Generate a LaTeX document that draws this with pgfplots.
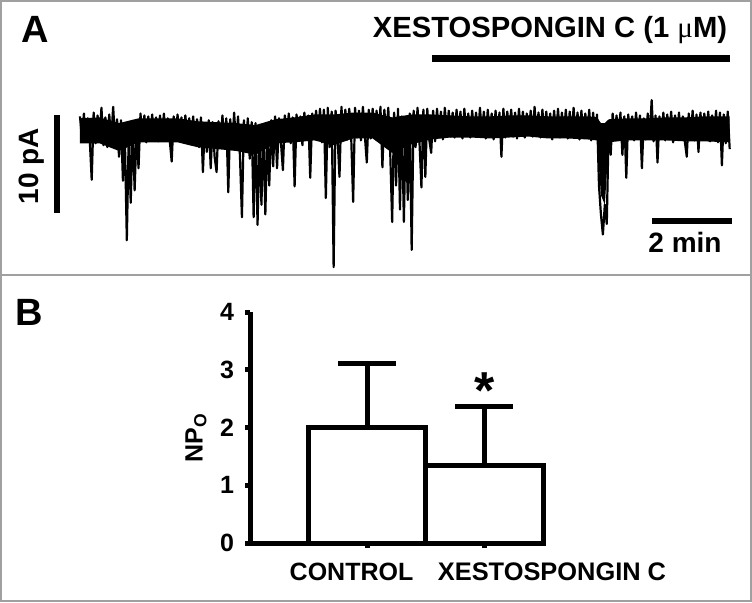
\documentclass[border=0pt]{standalone}
\usepackage{fontspec}
\setmainfont{Liberation Sans}
\newfontfamily\symfont{Liberation Serif}
\usepackage{pgfplots}
\pgfplotsset{compat=1.18}
\definecolor{framegray}{RGB}{160,160,160}

\begin{document}
\begin{tikzpicture}[x=0.5pt,y=0.5pt]
\useasboundingbox (0,0) rectangle (752,602);
\fill[white] (0,0) rectangle (752,602);
\draw[framegray, line width=1pt] (1,1) rectangle (751,601);
\draw[framegray, line width=1pt] (1,327) -- (751,327);

% ---------------- panel A: current trace ----------------
\node[anchor=base west, inner sep=0pt, font=\fontsize{19}{22}\selectfont\bfseries] at (21,560) {A};
\node[anchor=base, inner sep=0pt, font=\fontsize{14.6}{18}\selectfont\bfseries]
  at (550,565) {XESTOSPONGIN C (1 {\symfont\mdseries μ}M)};
\draw[line width=3.5pt] (432,543.5) -- (730,543.5);

\begin{axis}[at={(40pt,166pt)}, anchor=south west,
  width=325.5pt, height=86.4pt, scale only axis, hide axis,
  xmin=0, xmax=1001, ymin=-14.8, ymax=3.2, clip=false]
% dense core of the noise band (upper edge forward, lower edge back)
\addplot[fill=black, draw=none] coordinates {
(0,1.0)(30,1.1)(60,0.5)(90,1.0)(120,1.0)(150,1.0)(180,0.7)(210,0.6)(240,0.5)(270,0.3)
(300,0.9)(330,1.1)(360,1.4)(390,1.4)(420,1.6)(450,1.6)(480,1.1)(510,1.4)(540,1.4)(570,1.3)
(600,1.2)(630,1.2)(660,1.3)(690,1.3)(720,1.2)(750,1.2)(780,1.2)(795,1.1)(801,0.5)(807,0.5)
(813,0.9)(840,1.0)(870,1.0)(900,1.1)(930,1.1)(960,1.2)(999,1.2)
(999,-1.5)(960,-1.4)(930,-1.4)(900,-1.3)(870,-1.3)(840,-1.3)(813,-1.5)(807,-8.0)(801,-7.0)
(795,-1.3)(780,-1.2)(750,-1.1)(720,-1.1)(690,-0.9)(660,-1.0)(630,-1.1)(600,-1.0)(570,-1.0)
(540,-1.2)(510,-1.7)(480,-2.6)(450,-1.1)(420,-1.1)(390,-1.8)(360,-1.3)(330,-1.5)(300,-1.6)
(270,-2.8)(240,-2.4)(210,-2.2)(180,-2.0)(150,-1.5)(120,-1.5)(90,-1.5)(60,-2.4)(30,-1.6)(0,-1.6)
} \closedcycle;
% time in s, current in pA
\addplot[black, line width=1.1pt, line join=round, mark=none] coordinates {
(0,1.2)(3,-1.1)(6,1.5)(9,-1.4)(12,1.0)(15,-1.2)(18,-5.4)(21,1.6)(24,-1.6)(27,1.3)
(30,-1.0)(33,2.1)(36,-1.8)(39,1.1)(42,-2.0)(45,1.4)(48,-1.3)(51,2.2)(54,-1.5)(57,0.9)
(60,-3.0)(63,0.8)(66,-5.5)(69,-1.0)(72,-11.7)(75,-0.5)(78,-7.8)(81,0.5)(84,-6.5)(87,-0.2)
(90,-4.2)(93,1.5)(96,-1.2)(99,1.3)(102,-1.5)(105,1.2)(108,-1.0)(111,1.4)(114,-1.3)(117,1.1)
(120,-1.4)(123,1.3)(126,-1.1)(129,1.5)(132,-1.2)(135,1.0)(138,-1.3)(141,-3.5)(144,1.2)(147,-1.0)
(150,1.4)(153,-1.2)(156,1.1)(159,-1.5)(162,1.3)(165,-1.1)(168,1.0)(171,-1.4)(174,1.2)(177,-1.6)
(180,0.9)(183,-2.0)(186,1.1)(189,-4.6)(192,0.5)(195,-2.5)(198,0.8)(201,-4.2)(204,0.6)(207,-3.0)
(210,-4.6)(213,0.7)(216,-1.8)(219,1.3)(222,-1.5)(225,1.0)(228,-6.7)(231,0.9)(234,-2.0)(237,1.6)
(240,-1.8)(243,1.2)(246,-3.0)(249,-9.3)(252,0.8)(255,-2.5)(258,1.0)(261,-3.2)(264,0.6)(267,-9.3)
(270,0.5)(273,-10.1)(276,-1.0)(279,-8.0)(282,0.2)(285,-9.0)(288,-0.5)(291,-6.0)(294,0.8)(297,-4.0)
(300,1.2)(303,-4.2)(306,1.0)(309,-1.5)(312,-4.4)(315,1.3)(318,-1.2)(321,1.5)(324,-1.6)(327,1.1)
(330,-6.1)(333,1.4)(336,-1.3)(339,1.2)(342,-1.8)(345,1.6)(348,-1.2)(351,1.3)(354,-5.2)(357,1.5)
(360,-1.0)(363,1.8)(366,-1.2)(369,2.0)(372,-1.5)(375,1.9)(378,-7.3)(381,2.1)(384,-2.0)(387,1.7)
(390,-14.5)(393,1.8)(396,-1.0)(399,-5.1)(402,2.2)(405,-1.0)(408,1.9)(411,-1.2)(414,2.0)(417,-0.9)
(420,-7.7)(423,2.1)(426,-1.0)(429,1.8)(432,-1.3)(435,2.2)(438,-0.8)(441,-3.6)(444,1.9)(447,-1.1)
(450,2.0)(453,-0.9)(456,1.8)(459,-1.2)(462,2.2)(465,-4.1)(468,1.9)(471,-1.0)(474,2.1)(477,-2.5)
(480,-9.8)(483,1.6)(486,-6.0)(489,2.0)(492,-8.5)(495,1.2)(498,-9.8)(501,0.8)(504,-7.5)(507,1.5)
(510,-12.7)(513,1.8)(516,-2.0)(519,2.1)(522,-1.5)(525,-6.2)(528,1.9)(531,-5.1)(534,2.0)(537,-1.2)
(540,-2.6)(543,1.8)(546,-1.4)(549,2.0)(552,-1.0)(555,1.7)(558,-1.2)(561,2.1)(564,-0.9)(567,1.8)
(570,-0.9)(573,1.6)(576,-1.0)(579,1.9)(582,-0.7)(585,1.7)(588,-1.1)(591,2.0)(594,-0.8)(597,1.5)
(600,-1.0)(603,1.8)(606,-0.6)(609,1.6)(612,-0.9)(615,2.1)(618,-0.7)(621,1.7)(624,-1.1)(627,1.9)
(630,-0.8)(633,1.5)(636,-1.2)(639,1.8)(642,-0.9)(645,1.6)(648,-3.0)(651,2.0)(654,-1.0)(657,1.7)
(660,-0.7)(663,1.9)(666,-0.9)(669,1.6)(672,-1.1)(675,2.0)(678,-0.8)(681,1.7)(684,-1.0)(687,1.5)
(690,-0.6)(693,1.8)(696,-0.9)(699,2.2)(702,-0.8)(705,1.6)(708,-1.0)(711,1.9)(714,-0.7)(717,1.7)
(720,-0.9)(723,1.5)(726,-1.2)(729,1.8)(732,-0.8)(735,2.0)(738,-1.0)(741,1.6)(744,-0.9)(747,1.9)
(750,-1.1)(753,1.7)(756,-0.8)(759,2.1)(762,-0.9)(765,1.6)(768,-1.2)(771,1.8)(774,-1.0)(777,1.5)
(780,-0.9)(783,1.9)(786,-1.3)(789,1.6)(792,-1.0)(795,1.4)(798,-6.0)(801,-9.0)(804,-11.1)(807,-8.0)
(810,-10.0)(813,0.5)(816,-2.8)(819,1.5)(822,-1.0)(825,1.3)(828,-1.2)(831,1.6)(834,-2.8)(837,1.2)
(840,-5.2)(843,1.4)(846,-1.0)(849,1.2)(852,-1.3)(855,1.6)(858,-1.1)(861,1.3)(864,-4.2)(867,1.0)
(870,-1.2)(873,1.5)(876,-0.9)(879,2.9)(882,-1.4)(885,1.3)(888,-3.6)(891,1.2)(894,-1.1)(897,1.6)
(900,-1.3)(903,1.4)(906,-1.0)(909,1.7)(912,-1.5)(915,1.3)(918,-1.2)(921,1.6)(924,-1.0)(927,1.2)
(930,-1.4)(933,-3.0)(936,1.5)(939,-1.1)(942,1.8)(945,-1.3)(948,1.4)(951,-2.5)(954,1.6)(957,-1.0)
(960,1.5)(963,-1.2)(966,1.7)(969,-1.4)(972,1.3)(975,-1.1)(978,1.8)(981,-1.5)(984,1.6)(987,-3.9)
(990,1.4)(993,-1.6)(996,1.7)(999,-2.2)
};
\end{axis}

% scale bars
\draw[line width=3pt] (56.5,487) -- (56.5,389);
\node[rotate=90, inner sep=0pt, font=\fontsize{14}{16}\selectfont\bfseries] at (31.5,436) {10 pA};
\draw[line width=3pt] (652,381) -- (732,381);
\node[anchor=base, inner sep=0pt, font=\fontsize{14}{16}\selectfont\bfseries] at (685,350) {2 min};

% ---------------- panel B: NPo bars ----------------
\node[anchor=base west, inner sep=0pt, font=\fontsize{19}{22}\selectfont\bfseries] at (15,277) {B};

\begin{axis}[at={(125pt,29.5pt)}, anchor=south west,
  width=146.5pt, height=115.5pt, scale only axis,
  xmin=0, xmax=2.5, ymin=0, ymax=4,
  axis x line=bottom, axis y line=left,
  axis line style={line width=2.5pt, -},
  xtick={1,2}, xticklabels={},
  ytick={0,1,2,3,4}, yticklabels={0,1,2,3,4},
  tick align=outside, major tick length=2.5pt,
  tick style={line width=2.5pt, black},
  yticklabel style={font=\fontsize{12.5}{14}\selectfont\bfseries, xshift=-2pt},
  ybar, bar width=1, clip=false,
  error bars/y dir=plus, error bars/y explicit,
  error bars/error bar style={line width=2.5pt, black},
  error bars/error mark options={rotate=90, line width=2.5pt, mark size=14.5pt, black},
]
\addplot[draw=black, fill=white, line width=2.5pt]
  coordinates {(1,2.0) +- (0,1.1) (2,1.35) +- (0,1.02)};
\end{axis}

\node[rotate=90, inner sep=0pt, font=\fontsize{12.5}{14}\selectfont\bfseries] at (196,164) {NP\textsubscript{O}};
\node[anchor=base, inner sep=0pt, font=\fontsize{26}{30}\selectfont\bfseries] at (485,194) {*};
\node[anchor=base, inner sep=0pt, font=\fontsize{12.5}{14}\selectfont\bfseries] at (351.5,22) {CONTROL};
\node[anchor=base, inner sep=0pt, font=\fontsize{12.7}{14}\selectfont\bfseries] at (552,22) {XESTOSPONGIN C};
\end{tikzpicture}
\end{document}
